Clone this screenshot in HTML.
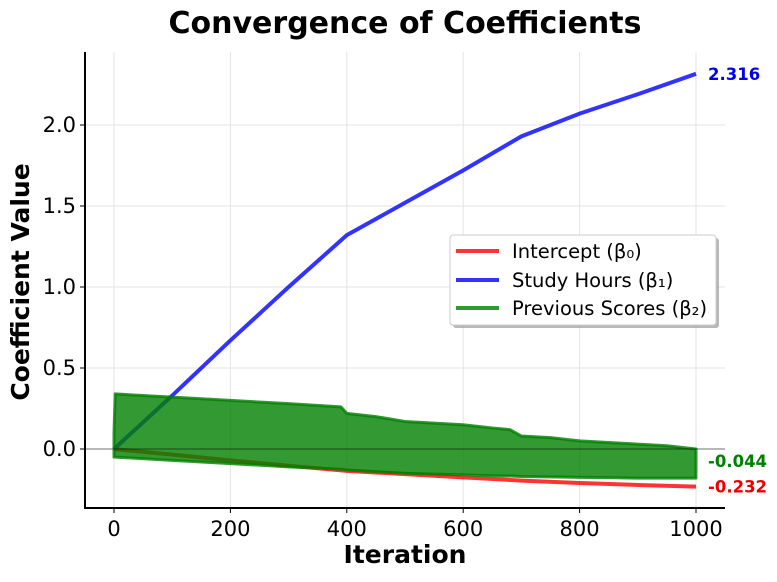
<!DOCTYPE html>
<html><head><meta charset="utf-8"><style>
body{margin:0;background:#fff;}
svg text{font-family:"DejaVu Sans","Liberation Sans",sans-serif;}
</style></head><body>
<svg id="chart" width="777" height="577" xmlns="http://www.w3.org/2000/svg">
<text x="405" y="33" text-anchor="middle" font-size="30" font-weight="bold">Convergence of Coefficients</text>
<g id="grid"></g>
<g id="series"></g>
<g id="axes"></g>
<text x="405" y="563" text-anchor="middle" font-size="25" font-weight="bold">Iteration</text>
<text transform="translate(29,282) rotate(-90)" text-anchor="middle" font-size="25" font-weight="bold">Coefficient Value</text>
<g>
<rect x="453" y="238" width="266" height="90" rx="3" fill="#888" opacity="0.6"/>
<rect x="450" y="235" width="266" height="90" rx="3" fill="#fff" stroke="#ccc"/>
<line x1="456" y1="251" x2="499" y2="251" stroke="#ff3333" stroke-width="4"/>
<text x="512" y="258" font-size="19.5">Intercept (β₀)</text>
<line x1="456" y1="280" x2="499" y2="280" stroke="#3333ff" stroke-width="4"/>
<text x="512" y="287" font-size="19.5">Study Hours (β₁)</text>
<line x1="456" y1="308" x2="499" y2="308" stroke="#339933" stroke-width="4"/>
<text x="512" y="315" font-size="19.5">Previous Scores (β₂)</text>
</g>
</svg>
<script>
const iterations=[0,100,200,300,400,500,600,700,800,900,1000];
const interceptVals=[0,-0.035,-0.07,-0.103,-0.135,-0.155,-0.175,-0.195,-0.21,-0.222,-0.232];
const studyVals=[0,0.33,0.67,1.0,1.32,1.52,1.72,1.93,2.07,2.19,2.316];
const greenIters=[0,2,100,200,300,390,400,450,500,550,600,650,680,700,750,800,850,900,950,1000];
const greenUpper=[0.1,0.34,0.32,0.30,0.28,0.26,0.22,0.2,0.17,0.16,0.15,0.13,0.12,0.08,0.07,0.05,0.04,0.03,0.02,0.0];
const greenLower=[-0.05,-0.05,-0.07,-0.09,-0.11,-0.125,-0.13,-0.14,-0.15,-0.155,-0.16,-0.165,-0.167,-0.17,-0.172,-0.175,-0.177,-0.18,-0.18,-0.18];
const xTicks=[0,200,400,600,800,1000];
const yTicks=[0.0,0.5,1.0,1.5,2.0];
const yTickLabels=["0.0","0.5","1.0","1.5","2.0"];
const finalLabels=["2.316","-0.044","-0.232"];
const NS="http://www.w3.org/2000/svg";
const L=85,R=725,T=52,B=508;
const X=v=>114+v*0.582;
const Y=v=>449-v*162;
function mk(tag,attrs,parent){const e=document.createElementNS(NS,tag);for(const k in attrs)e.setAttribute(k,attrs[k]);parent.appendChild(e);return e;}
const grid=document.getElementById('grid'),ser=document.getElementById('series'),axes=document.getElementById('axes');
xTicks.forEach(t=>{const g=mk('line',{x1:X(t),x2:X(t),y1:T,y2:B,stroke:'#e3e3e3','stroke-width':1},grid);
 const tk=mk('line',{x1:X(t),x2:X(t),y1:B,y2:B+5,stroke:'#000'},axes);
 const tx=mk('text',{x:X(t),y:B+28,'text-anchor':'middle','font-size':21},axes);tx.textContent=t;});
yTicks.forEach((t,i)=>{const g=mk('line',{x1:L,x2:R,y1:Y(t),y2:Y(t),stroke:'#e3e3e3'},grid);
 const tk=mk('line',{x1:L-5,x2:L,y1:Y(t),y2:Y(t),stroke:'#000'},axes);
 const tx=mk('text',{x:L-9,y:Y(t)+7,'text-anchor':'end','font-size':21},axes);tx.textContent=yTickLabels[i];});
const pts=(xs,ys)=>xs.map((x,i)=>X(x)+','+Y(ys[i])).join(' ');
const red=mk('polyline',{points:pts(iterations,interceptVals),fill:'none',stroke:'#ff0000','stroke-opacity':0.8,'stroke-width':4},ser);

const blue=mk('polyline',{points:pts(iterations,studyVals),fill:'none',stroke:'#0000ff','stroke-opacity':0.8,'stroke-width':4},ser);

const up=greenIters.map((x,i)=>X(x)+','+Y(greenUpper[i]));
const lo=greenIters.map((x,i)=>X(x)+','+Y(greenLower[i])).reverse();
const green=mk('polygon',{points:up.concat(lo).join(' '),fill:'#008000','fill-opacity':0.8,stroke:'#008000','stroke-opacity':0.8,'stroke-width':3,'stroke-linejoin':'round'},ser);

const zl=mk('line',{x1:L,x2:R,y1:Y(0),y2:Y(0),stroke:'#000','stroke-opacity':0.5,'stroke-width':1},ser);

const colors=['#0000ee','#008000','#ee0000'];const ly=[Y(studyVals[10])+6,Y(-0.044)+11,Y(interceptVals[10])+6];
finalLabels.forEach((s,i)=>{const t=mk('text',{x:708,y:ly[i],'font-size':16.5,'font-weight':'bold',fill:colors[i]},axes);t.textContent=s;});
const ax=mk('path',{d:`M${L},${T} V${B} H${R}`,fill:'none',stroke:'#000','stroke-width':2},axes);

</script>
</body></html>
